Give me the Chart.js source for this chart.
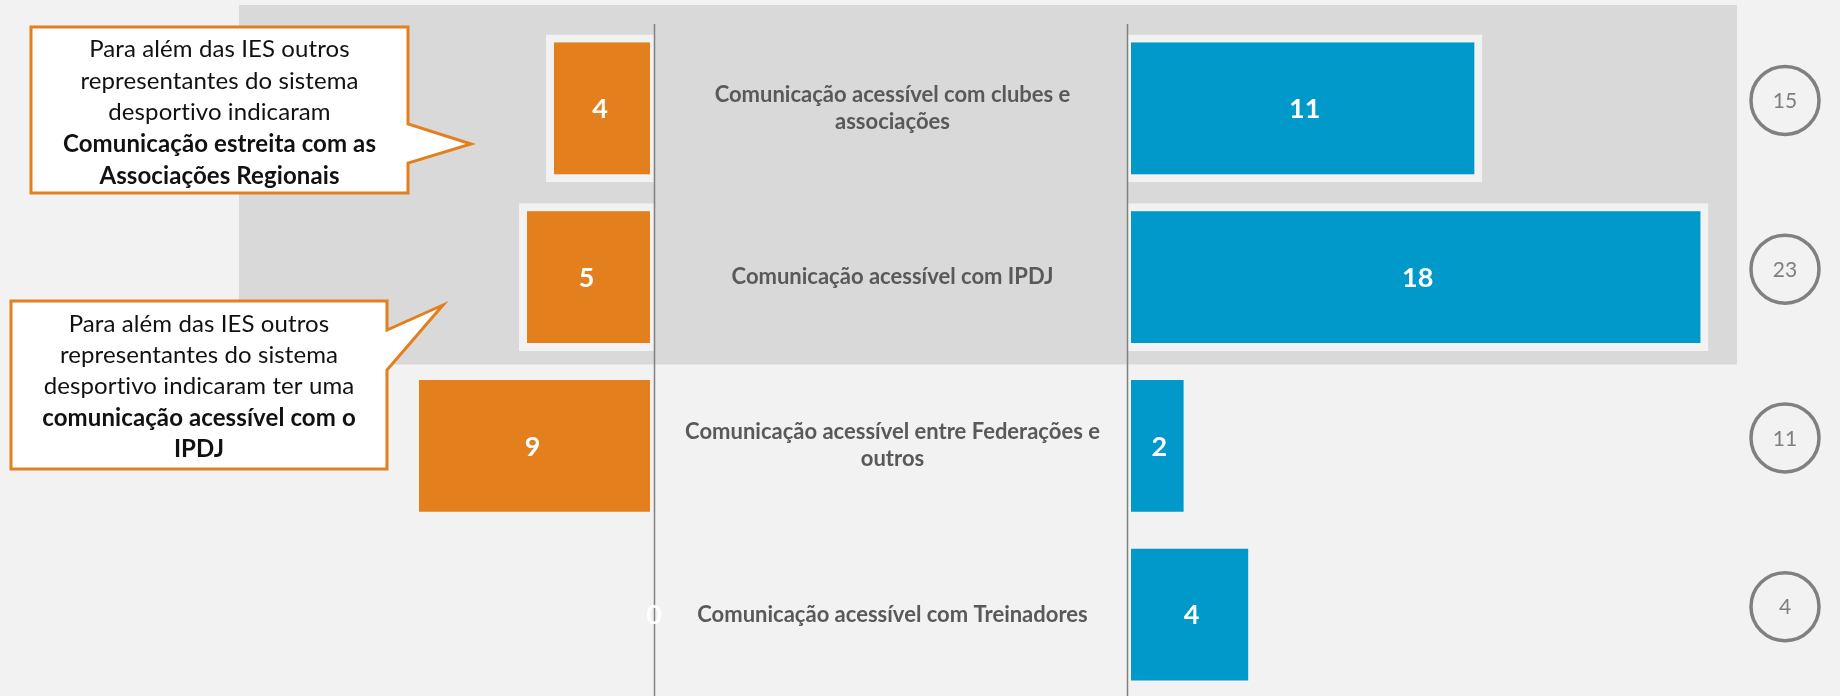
<!DOCTYPE html>
<html lang="pt">
<head>
<meta charset="utf-8">
<title>Comunicação acessível</title>
<script src="https://cdn.jsdelivr.net/npm/chart.js@4.4.1/dist/chart.umd.min.js"></script>
<style>
  html, body { margin: 0; padding: 0; background: #f2f2f2; overflow: hidden; }
  #wrap { width: 1840px; height: 700px; }
</style>
</head>
<body>
<div id="wrap"><canvas id="chart" width="1840" height="700"></canvas></div>
<script>
// data
const categories = [
    ['Comunicação acessível com clubes e', 'associações'],
    ['Comunicação acessível com IPDJ'],
    ['Comunicação acessível entre Federações e', 'outros'],
    ['Comunicação acessível com Treinadores']
];
const leftValues = [4, 5, 9, 0];
const rightValues = [11, 18, 2, 4];
const highlightedRows = [0, 1];

const callout1Lines = [
    ['Para além das IES outros', false],
    ['representantes do sistema', false],
    ['desportivo indicaram', false],
    ['Comunicação estreita com as', true],
    ['Associações Regionais', true]
];
const callout2Lines = [
    ['Para além das IES outros', false],
    ['representantes do sistema', false],
    ['desportivo indicaram ter uma', false],
    ['comunicação acessível com o', true],
    ['IPDJ', true]
];

const FONT = 'Lato, "Open Sans", sans-serif';
const ORANGE = '#e37f1d';
const BLUE = '#0099ca';
const LINE_GRAY = '#808080';
const BG = '#f2f2f2';

// scale geometry: where zero sits and how many px per unit on each side
const W = 1840;
const leftZero = 654, leftPx = 27;
const rightZero = 1127, rightPx = 32.3;

function drawCallout(ctx, box, tail, lines) {
    const { x, y, w, h } = box;
    ctx.save();
    ctx.beginPath();
    ctx.moveTo(x, y);
    ctx.lineTo(x + w, y);
    ctx.lineTo(x + w, tail.y1);
    ctx.lineTo(tail.tx, tail.ty);
    ctx.lineTo(x + w, tail.y2);
    ctx.lineTo(x + w, y + h);
    ctx.lineTo(x, y + h);
    ctx.closePath();
    ctx.fillStyle = '#ffffff';
    ctx.fill();
    ctx.lineWidth = 3;
    ctx.lineJoin = 'miter';
    ctx.strokeStyle = ORANGE;
    ctx.stroke();

    ctx.fillStyle = '#111111';
    ctx.textAlign = 'center';
    ctx.textBaseline = 'middle';
    ctx.letterSpacing = '0.1px';
    lines.forEach(([text, bold], i) => {
        ctx.font = (bold ? 'bold ' : '') + '24px ' + FONT;
        ctx.fillText(text, x + w / 2, y + box.first + i * box.pitch);
    });
    ctx.restore();
}

const decorPlugin = {
    id: 'pyramidDecor',
    beforeDatasetsDraw(chart) {
        const { ctx, scales: { y } } = chart;
        const half = (y.getPixelForValue(1) - y.getPixelForValue(0)) / 2;
        const top = y.getPixelForValue(Math.min(...highlightedRows)) - half - 19;
        const bottom = y.getPixelForValue(Math.max(...highlightedRows)) + half + 3;
        ctx.save();
        ctx.fillStyle = '#d9d9d9';
        ctx.fillRect(239, top, 1737 - 239, bottom - top);
        ctx.restore();
    },
    afterDatasetsDraw(chart) {
        const { ctx, chartArea, scales: { y, xL, xR } } = chart;
        const x0 = xL.getPixelForValue(0);
        const x1 = xR.getPixelForValue(0);

        ctx.save();
        // axis lines
        ctx.strokeStyle = LINE_GRAY;
        ctx.lineWidth = 1.5;
        [x0, x1].forEach(px => {
            ctx.beginPath();
            ctx.moveTo(Math.round(px) + 0.5, chartArea.top);
            ctx.lineTo(Math.round(px) + 0.5, chartArea.bottom);
            ctx.stroke();
        });

        // category labels in the middle column
        ctx.fillStyle = '#595959';
        ctx.font = 'bold 22px ' + FONT;
        ctx.textAlign = 'center';
        ctx.textBaseline = 'middle';
        categories.forEach((lines, i) => {
            const cy = y.getPixelForValue(i);
            const lh = 27;
            lines.forEach((ln, k) => {
                ctx.fillText(ln, (x0 + x1) / 2 + 2, cy + (k - (lines.length - 1) / 2) * lh);
            });
        });

        // values inside bars
        ctx.fillStyle = '#ffffff';
        ctx.font = 'bold 27px ' + FONT;
        [leftValues, rightValues].forEach((vals, d) => {
            chart.getDatasetMeta(d).data.forEach((bar, i) => {
                ctx.fillText(String(vals[i]), (bar.x + bar.base) / 2, bar.y + 1);
            });
        });

        // totals in circles
        categories.forEach((_, i) => {
            const cy = y.getPixelForValue(i) - 8;
            const cx = 1785;
            ctx.beginPath();
            ctx.arc(cx, cy, 34, 0, Math.PI * 2);
            ctx.lineWidth = 3.5;
            ctx.strokeStyle = LINE_GRAY;
            ctx.stroke();
            ctx.fillStyle = '#7f7f7f';
            ctx.font = '21px ' + FONT;
            ctx.fillText(String(leftValues[i] + rightValues[i]), cx, cy + 1);
        });
        ctx.restore();

        drawCallout(ctx, { x: 31, y: 27, w: 377, h: 166, first: 22, pitch: 31.8 },
            { y1: 124, y2: 163, tx: 471, ty: 144 }, callout1Lines);
        drawCallout(ctx, { x: 11, y: 301, w: 376, h: 168, first: 23, pitch: 31.3 },
            { y1: 330, y2: 370, tx: 443, ty: 305 }, callout2Lines);
    }
};

const ctx = document.getElementById('chart').getContext('2d');
new Chart(ctx, {
    type: 'bar',
    data: {
        labels: categories,
        datasets: [{
            label: 'Esquerda',
            data: leftValues,
            xAxisID: 'xL',
            backgroundColor: ORANGE,
            borderColor: BG,
            borderWidth: { top: 8, bottom: 8, left: 8, right: 4 },
            borderSkipped: false,
            grouped: false,
            categoryPercentage: 1,
            barPercentage: 0.877
        }, {
            label: 'Direita',
            data: rightValues,
            xAxisID: 'xR',
            backgroundColor: BLUE,
            borderColor: BG,
            borderWidth: { top: 8, bottom: 8, left: 4, right: 8 },
            borderSkipped: false,
            grouped: false,
            categoryPercentage: 1,
            barPercentage: 0.877
        }]
    },
    options: {
        indexAxis: 'y',
        responsive: false,
        animation: false,
        layout: { padding: { top: 24, bottom: 1, left: 0, right: 0 } },
        plugins: {
            legend: { display: false },
            tooltip: { enabled: false }
        },
        scales: {
            y: { type: 'category', display: false, offset: true },
            xL: {
                type: 'linear',
                display: false,
                reverse: true,
                min: (leftZero - W) / leftPx,
                max: leftZero / leftPx
            },
            xR: {
                type: 'linear',
                display: false,
                min: -rightZero / rightPx,
                max: (W - rightZero) / rightPx
            }
        }
    },
    plugins: [decorPlugin]
});
</script>
</body>
</html>
